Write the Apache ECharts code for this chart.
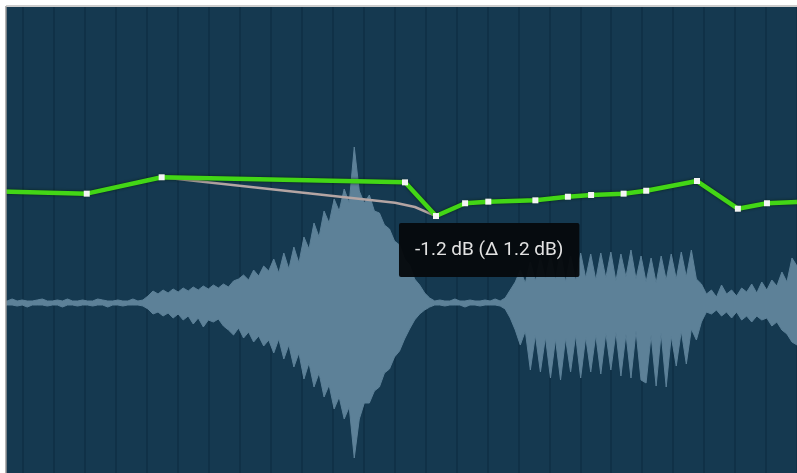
<!DOCTYPE html>
<html><head><meta charset="utf-8">
<script src="https://cdn.jsdelivr.net/npm/echarts@6/dist/echarts.min.js"></script>
<style>html,body{margin:0;padding:0;background:#fff;overflow:hidden;width:797px;height:473px;position:relative}#c{position:absolute;left:-8px;top:0;width:805px;height:473px}</style>
</head><body><div id="c"></div>
<script>
// Automation (gain) points: time in beats, gain in dB
const gainTime = [0, 3.06, 5.48, 13.34, 14.34, 15.28, 16.03, 17.55, 18.60, 19.35, 20.40, 21.13, 22.77, 24.09, 25.03, 26];
const gainDb   = [0.66, 0.48, 1.71, 1.33, -1.2, -0.24, -0.12, -0.02, 0.25, 0.38, 0.48, 0.70, 1.43, -0.65, -0.24, -0.15];
// Previous (pre-edit) automation segment
const prevTime = [5.48, 13.02, 13.66, 14.34];
const prevDb   = [1.71, -0.20, -0.52, -1.2];
const selectedIndex = 4;
const tipText = '-1.2 dB (\u0394 1.2 dB)';
// Waveform envelope (peak amplitude per column)
const waveUpper = [1,1.5,1,1,2,1,1.5,1,1,1.5,2,1,1,1.5,1,2,1,1,1.5,1,1,2,1.5,1,1,1.5,1,1,2,1,1.5,
  3.5,6,4.5,6.5,5,7,5.5,7.5,6,8,6.5,8.5,7,9,7.5,9.5,8,11,12,14,11.5,16.5,13.5,18.5,16,22,15,25,17,28,20,33,27,40,33,46,40,52,46,57,50,78,56,50,54,46,45,39,37,31,29,22,19,12,9,5,2.5,
  1,1.5,1,1,2,1,1,1.5,1,1,1.5,1,2,1,
  2.5,6.5,10.5,16.5,10,20.5,11,22.5,12,24,11.5,25.5,10.5,23.5,11,25,12.5,24.5,11.5,25,12.5,25.5,11,24.5,13,26.5,12,23.5,10.5,22.5,10,23.5,11.5,24.5,12,25.5,13,26.5,12,9.5,4.5,6.5,3,9,4.5,6.5,3.5,7.5,5.5,9.5,5,10.5,6.5,11.5,8.5,15.5,10.5,22.5,18.5];
const waveLower = [-1,-1,-1.5,-1,-1,-1.5,-1,-2,-1,-1,-1,-1.5,-1,-1,-2,-1,-1,-1.5,-1,-1,-1.5,-1,-1,-2,-1,-1,-1.5,-1,-1,-1,-1.5,
  -3,-5.5,-4.5,-6.5,-5,-7.5,-5.5,-8.5,-6.5,-10.5,-7.5,-12,-8.5,-9.5,-8,-11.5,-13.5,-16,-12.5,-17.5,-14.5,-19.5,-16.5,-21.5,-18.5,-25,-18,-28,-21,-32,-25,-38,-30,-42,-35,-47,-41,-53,-47,-58,-52,-77.5,-58,-50,-50,-44,-42,-35,-33,-27,-24,-18,-13,-8.5,-5.5,-3.5,-2,
  -1,-1,-1.5,-1,-1,-1,-2,-1,-1,-1.5,-1,-1,-1,-1.5,
  -3,-7.5,-13.5,-21,-14,-33.5,-16,-34.5,-17,-37.5,-18,-38.5,-17.5,-34.5,-16,-37.5,-17,-34.5,-16,-35.5,-15,-33.5,-14.5,-36.5,-15.5,-37.5,-14,-38.5,-40,-16,-41.5,-15,-42,-16.5,-31.5,-14,-30.5,-13,-18.5,-9.5,-4.5,-5.5,-3.5,-6.5,-4.5,-7.5,-4.5,-8.5,-6.5,-9.5,-6.5,-8.5,-7.5,-11.5,-9.5,-13.5,-15.5,-19.5,-21];

const chart = echarts.init(document.getElementById('c'), null, {renderer: 'canvas'});
const waveColor = '#5d8198';
const gainData = gainTime.map((t, i) => {
  if (i === 0 || i === gainTime.length - 1) return {value: [t, gainDb[i]], symbol: 'none'};
  if (i === selectedIndex) return {
    value: [t, gainDb[i]],
    label: {
      show: true, formatter: tipText, position: [-34, 10],
      backgroundColor: 'rgba(6,9,12,0.96)', color: '#e2e2e2',
      fontFamily: 'Roboto', fontSize: 19, lineHeight: 20,
      padding: [17, 16, 17, 16], borderRadius: 2
    }
  };
  return [t, gainDb[i]];
});
const prevData = prevTime.map((t, i) => [t, prevDb[i]]);

chart.setOption({
  animation: false,
  grid: {left: 0, top: 7, right: 0, bottom: 0, show: true, backgroundColor: '#153950', borderWidth: 0},
  xAxis: [
    {type: 'value', min: 0, max: 26, interval: 1, axisLine: {show: false}, axisTick: {show: false}, axisLabel: {show: false},
     splitLine: {show: true, lineStyle: {color: '#0f2f45', width: 1.5}}},
    {type: 'category', data: waveUpper.map((_, i) => i), boundaryGap: false, show: false}
  ],
  yAxis: [
    {type: 'value', min: -20.5, max: 14.5, show: false, splitLine: {show: false}},
    {type: 'value', min: -85, max: 148, show: false, splitLine: {show: false}}
  ],
  series: [
    {type: 'line', xAxisIndex: 1, yAxisIndex: 1, data: waveUpper, symbol: 'none', silent: true, z: 1,
     lineStyle: {width: 1, color: waveColor}, areaStyle: {color: waveColor, opacity: 1}},
    {type: 'line', xAxisIndex: 1, yAxisIndex: 1, data: waveLower, symbol: 'none', silent: true, z: 1,
     lineStyle: {width: 1, color: waveColor}, areaStyle: {color: waveColor, opacity: 1}},
    {type: 'line', xAxisIndex: 0, yAxisIndex: 0, data: prevData, symbol: 'none', silent: true, z: 3,
     lineStyle: {width: 2.5, color: '#b4a5a3'}},
    {type: 'line', xAxisIndex: 0, yAxisIndex: 0, data: gainData, symbol: 'rect', symbolSize: 6,
     showSymbol: true, showAllSymbol: true, z: 4,
     lineStyle: {width: 4.5, color: '#43d616', shadowColor: 'rgba(0,30,0,0.75)', shadowBlur: 3},
     itemStyle: {color: '#f4f4f4'}}
  ],
  graphic: [
    {type: 'rect', shape: {x: 0, y: 0, width: 14, height: 473}, style: {fill: '#ffffff'}, z: 100, silent: true},
    {type: 'rect', shape: {x: 0, y: 0, width: 805, height: 6}, style: {fill: '#ffffff'}, z: 100, silent: true},
    {type: 'line', shape: {x1: 14, y1: 6, x2: 14, y2: 473}, style: {stroke: '#9a9a9a', lineWidth: 1.5}, z: 101, silent: true},
    {type: 'line', shape: {x1: 14, y1: 6, x2: 805, y2: 6}, style: {stroke: '#bdbdbd', lineWidth: 1.5}, z: 101, silent: true}
  ]
});
</script></body></html>
